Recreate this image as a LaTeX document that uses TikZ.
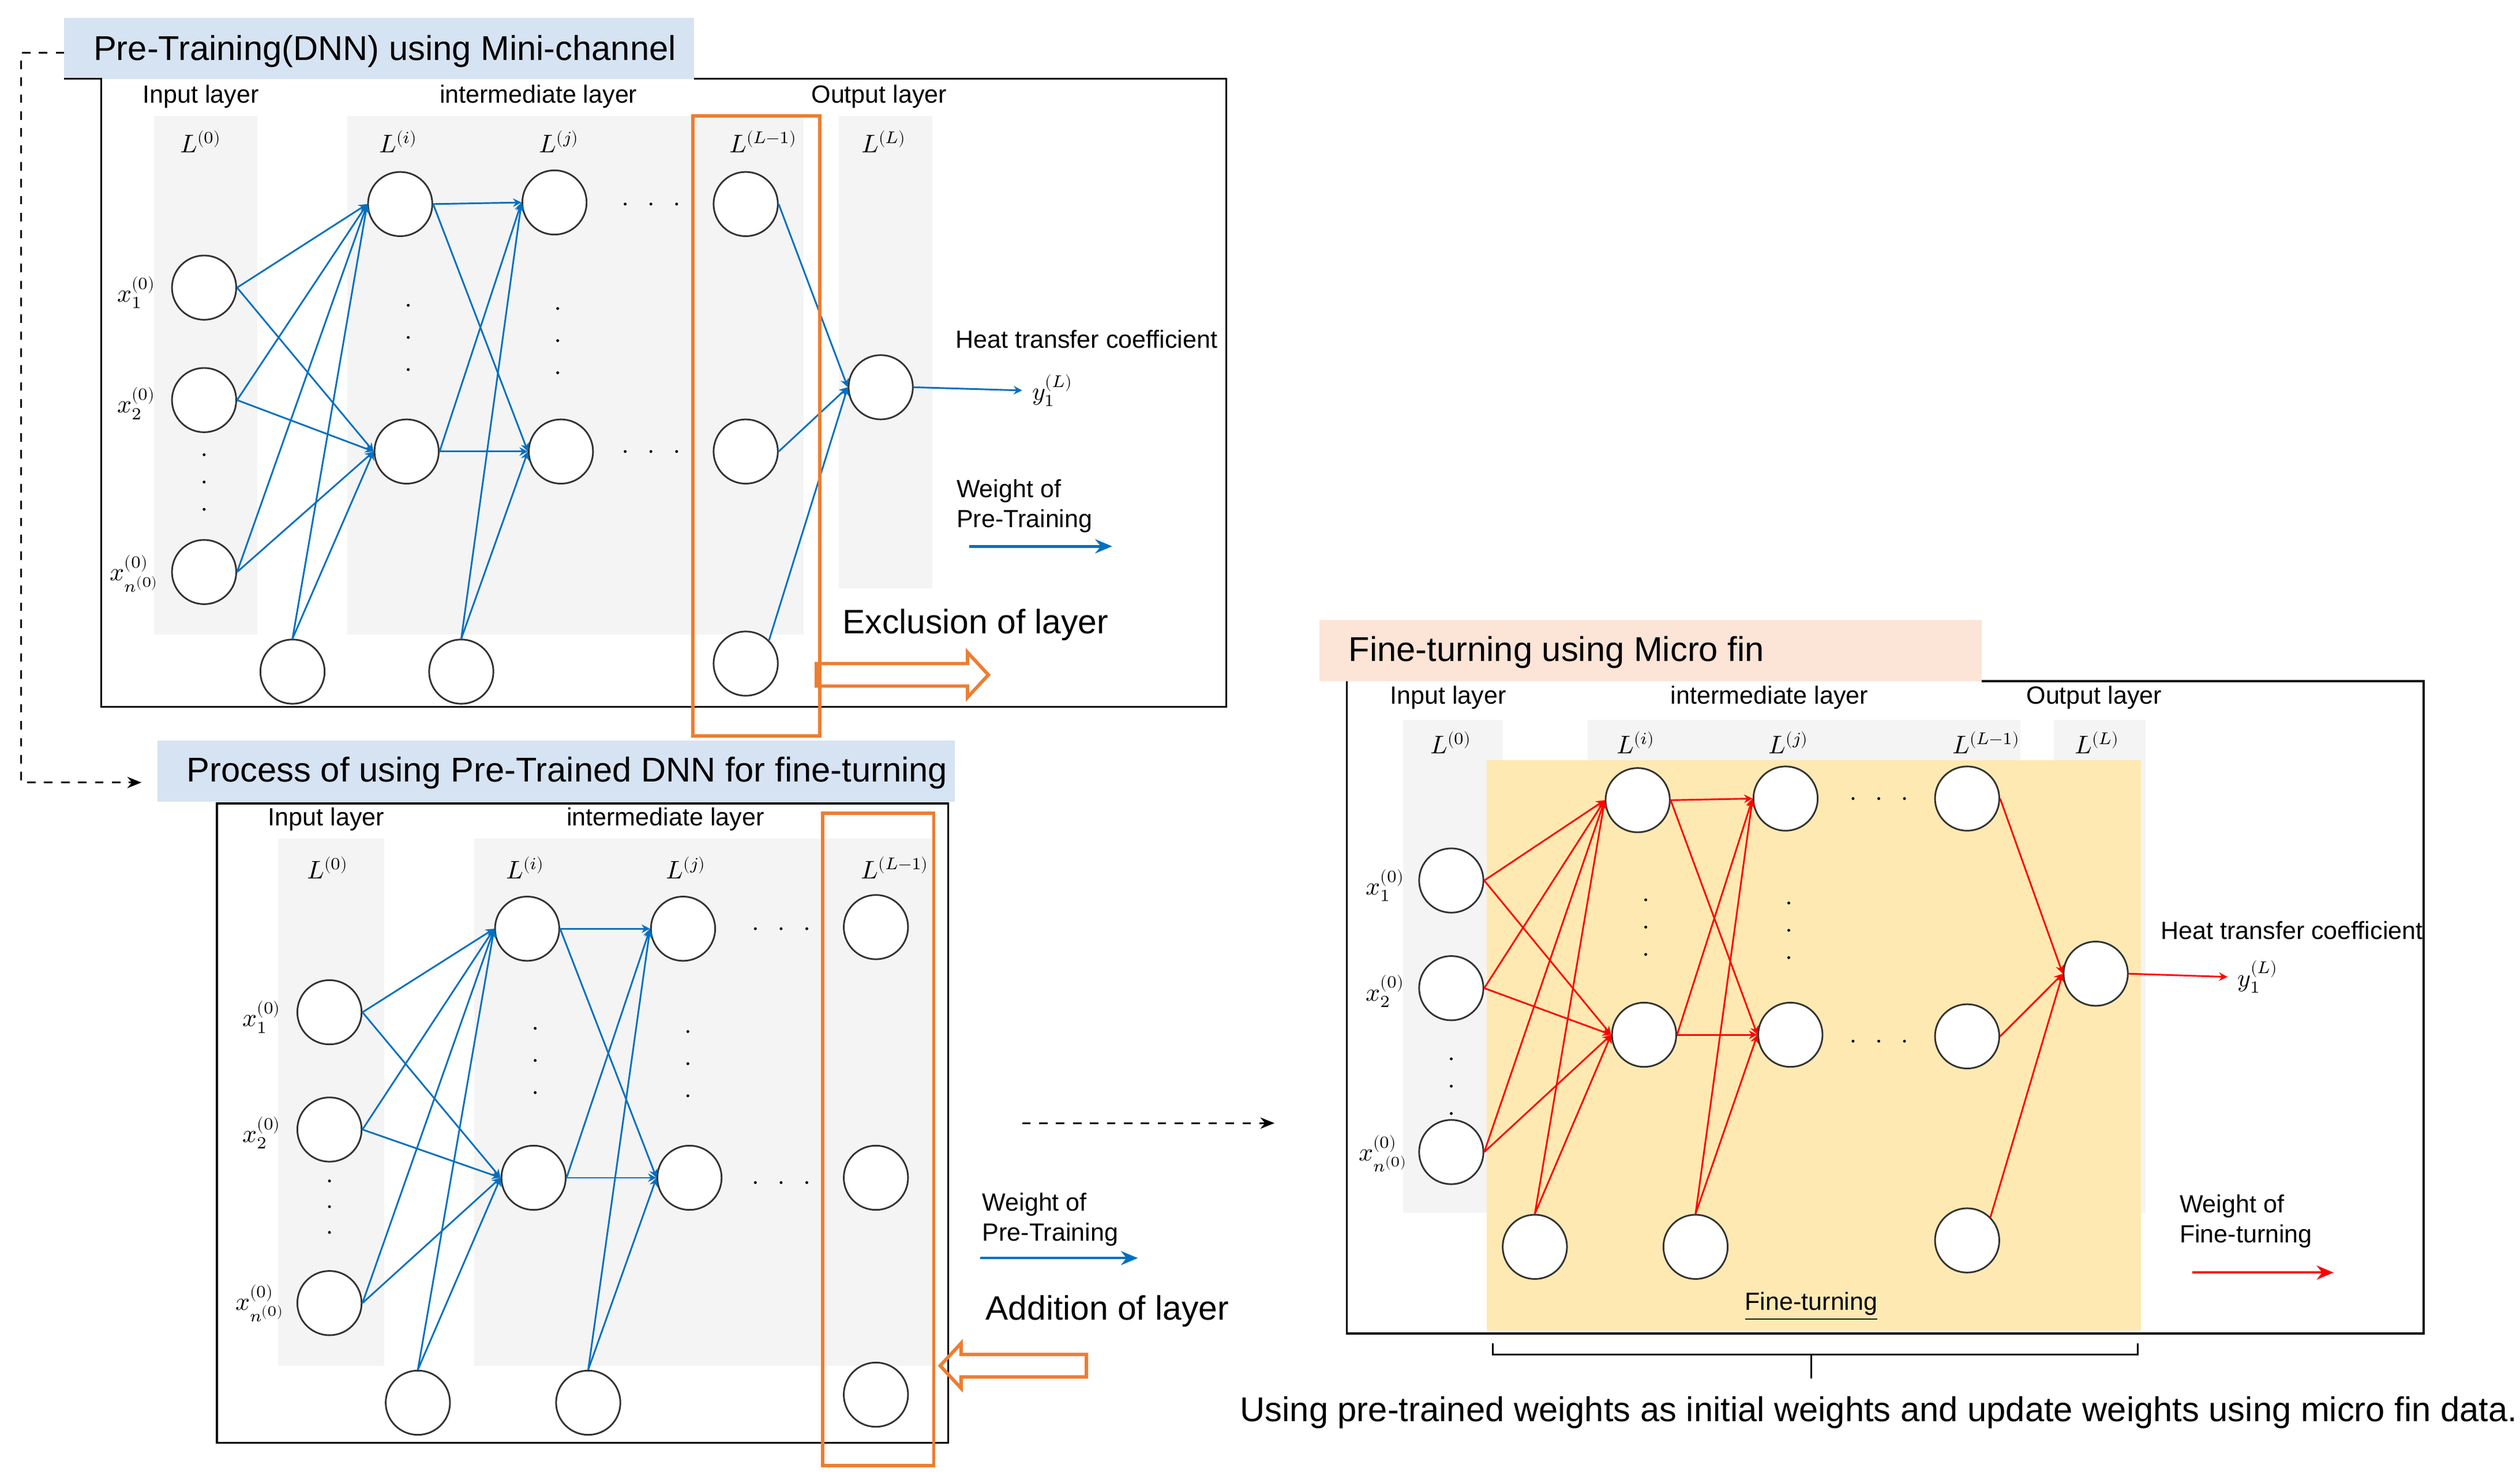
\documentclass[tikz,border=0pt]{standalone}
\usepackage{fontspec}
\setmainfont{Liberation Sans}
\usepackage{unicode-math}
\setmathfont{Latin Modern Math}
\usetikzlibrary{arrows.meta}
\definecolor{nblue}{RGB}{0,112,192}
\definecolor{nred}{RGB}{255,0,0}
\definecolor{norange}{RGB}{237,125,49}
\definecolor{band}{RGB}{244,244,244}
\definecolor{tblue}{RGB}{214,227,242}
\definecolor{tpeach}{RGB}{252,228,214}
\definecolor{yel}{RGB}{255,233,178}
\tikzset{
 nd/.style={draw=black!80,fill=white,circle,minimum size=0.8cm,inner sep=0,line width=0.6pt},
 hdr/.style={font=\fontsize{8.8}{10.5}\selectfont},
 ttl/.style={font=\fontsize{12.2}{14}\selectfont},
 big/.style={font=\fontsize{12}{14}\selectfont},
 ml/.style={font=\fontsize{9}{10}\selectfont},
 eb/.style={nblue,line width=0.6pt,-{Stealth[length=3pt,width=3pt]}},
 er/.style={nred,line width=0.6pt,-{Stealth[length=3pt,width=3pt]}},
}
\newcommand{\vdt}[3]{\foreach \k in {0,1,2}{\fill (#1,#2+\k*#3) circle (0.9);}}
\newcommand{\hdt}[2]{\foreach \k in {0,1,2}{\fill (#1+\k*16,#2) circle (0.9);}}
\begin{document}
\begin{tikzpicture}[x=0.02cm,y=-0.02cm]
\useasboundingbox (0,0) rectangle (1568,921);
%================ PANEL 1
\fill[tblue] (40,11) rectangle (432,49);
\node[ttl,anchor=west] (t1) at (52,32) {Pre-Training(DNN) using Mini-channel};
\draw[line width=0.7pt] (432,49) -- (763,49) -- (763,440) -- (63,440) -- (63,49) -- (40,49);
\fill[band] (96,72) rectangle (160,395);
\fill[band] (216,72) rectangle (500,395);
\fill[band] (522,72) rectangle (580,366);
\node[hdr] (h1a) at (125,60) {Input layer};
\node[hdr] (h1b) at (335,60) {intermediate layer};
\node[hdr] (h1c) at (547,60) {Output layer};
\node[ml] (l1a) at (125,88) {$L^{(0)}$};
\node[ml] (l1b) at (248,88) {$L^{(i)}$};
\node[ml] (l1c) at (348,88) {$L^{(j)}$};
\node[ml] (l1d) at (475,88) {$L^{(L-1)}$};
\node[ml] (l1e) at (550,88) {$L^{(L)}$};
\node[nd] (a1) at (127,179) {};
\node[nd] (a2) at (127,249) {};
\node[nd] (an) at (127,356) {};
\node[nd] (ab1) at (182,418) {};
\node[nd] (ab2) at (287,418) {};
\node[nd] (ai1) at (249,127) {};
\node[nd] (ai2) at (253,281) {};
\node[nd] (aj1) at (345,126) {};
\node[nd] (aj2) at (349,281) {};
\node[nd] (ak1) at (464,127) {};
\node[nd] (ak2) at (464,281) {};
\node[nd] (ak3) at (464,413) {};
\node[nd] (ao) at (548,241) {};
\node[ml] (ax1) at (85,182) {$x_1^{(0)}$};
\node[ml] (ax2) at (85,251) {$x_2^{(0)}$};
\node[ml] (axn) at (84,357) {$x_{n^{(0)}}^{(0)}$};
\vdt{127}{283}{17} \vdt{254}{190}{20} \vdt{347}{192}{20}
\hdt{389}{127} \hdt{389}{281}
\foreach \s in {a1,a2,an}{\draw[eb] (\s.east) -- (ai1.west); \draw[eb] (\s.east) -- (ai2.west);}
\draw[eb] (ab1.north) -- (ai1.west); \draw[eb] (ab1.north) -- (ai2.west);
\foreach \s in {ai1,ai2}{\draw[eb] (\s.east) -- (aj1.west); \draw[eb] (\s.east) -- (aj2.west);}
\draw[eb] (ab2.north) -- (aj1.west); \draw[eb] (ab2.north) -- (aj2.west);
\foreach \s in {ak1,ak2}{\draw[eb] (\s.east) -- (ao.west);}
\draw[eb] (ak3.north east) -- (ao.west);
\draw[norange,line width=1.2pt] (431,72) rectangle (510,458);
\node[ml] (ay) at (655,243) {$y_1^{(L)}$};
\draw[eb] (ao.east) -- (ay.west);
\node[hdr] (heat1) at (676,211) {Heat transfer coefficient};
\node[hdr,anchor=west,align=left] (w1) at (589,315) {Weight of\\Pre-Training};
\coordinate (w1s) at (603,340); \coordinate (w1e) at (692,340);
\draw[nblue,line width=1pt,-{Stealth[length=6pt,width=5pt]}] (w1s) -- (w1e);
\node[big] (ex) at (607,389) {Exclusion of layer};
\draw[norange,line width=1.2pt] (508,413) -- (602,413) -- (602,406) -- (615,420) -- (602,434) -- (602,427) -- (508,427) -- cycle;
\coordinate (d0) at (40,33); \coordinate (d1) at (88,487);
\draw[dashed,line width=0.6pt,-{Stealth[length=5pt,width=4pt]}] (d0) -- (13,33) -- (13,487) -- (d1);
%================ PANEL 2
\fill[tblue] (98,461) rectangle (594,499);
\node[ttl,anchor=west] (t2) at (110,481) {Process of using Pre-Trained DNN for fine-turning};
\draw[line width=0.7pt] (135,500) rectangle (590,898);
\fill[band] (173,522) rectangle (239,850);
\fill[band] (295,522) rectangle (580,850);
\node[hdr] (h2a) at (203,510) {Input layer};
\node[hdr] (h2b) at (414,510) {intermediate layer};
\node[ml] (l2a) at (204,540) {$L^{(0)}$};
\node[ml] (l2b) at (327,540) {$L^{(i)}$};
\node[ml] (l2c) at (427,540) {$L^{(j)}$};
\node[ml] (l2d) at (557,540) {$L^{(L-1)}$};
\node[nd] (b1) at (205,630) {};
\node[nd] (b2) at (205,703) {};
\node[nd] (bn) at (205,811) {};
\node[nd] (bb1) at (260,873) {};
\node[nd] (bb2) at (366,873) {};
\node[nd] (bi1) at (328,578) {};
\node[nd] (bi2) at (332,733) {};
\node[nd] (bj1) at (425,578) {};
\node[nd] (bj2) at (429,733) {};
\node[nd] (bk1) at (545,577) {};
\node[nd] (bk2) at (545,733) {};
\node[nd] (bk3) at (545,868) {};
\node[ml] (bx1) at (163,633) {$x_1^{(0)}$};
\node[ml] (bx2) at (163,705) {$x_2^{(0)}$};
\node[ml] (bxn) at (162,811) {$x_{n^{(0)}}^{(0)}$};
\vdt{205}{735}{16} \vdt{333}{640}{20} \vdt{428}{642}{20}
\hdt{470}{578} \hdt{470}{736}
\foreach \s in {b1,b2,bn}{\draw[eb] (\s.east) -- (bi1.west); \draw[eb] (\s.east) -- (bi2.west);}
\draw[eb] (bb1.north) -- (bi1.west); \draw[eb] (bb1.north) -- (bi2.west);
\foreach \s in {bi1,bi2}{\draw[eb] (\s.east) -- (bj1.west); \draw[eb] (\s.east) -- (bj2.west);}
\draw[eb] (bb2.north) -- (bj1.west); \draw[eb] (bb2.north) -- (bj2.west);
\draw[norange,line width=1.2pt] (512,506) rectangle (581,912);
\node[hdr,anchor=west,align=left] (w2) at (605,759) {Weight of\\Pre-Training};
\coordinate (w2s) at (610,783); \coordinate (w2e) at (708,783);
\draw[nblue,line width=0.8pt,-{Stealth[length=6pt,width=5pt]}] (w2s) -- (w2e);
\node[big] (ad) at (689,816) {Addition of layer};
\draw[norange,line width=1.2pt] (676,843) -- (598,843) -- (598,836) -- (585,850) -- (598,864) -- (598,857) -- (676,857) -- cycle;
\coordinate (e0) at (636,699); \coordinate (e1) at (793,699);
\draw[dashed,line width=0.6pt,-{Stealth[length=5pt,width=4pt]}] (e0) -- (e1);
%================ PANEL 3
\fill[tpeach] (821,386) rectangle (1233,424);
\node[ttl,anchor=west] (t3) at (833,406) {Fine-turning using Micro fin};
\draw[line width=0.7pt] (1233,424) -- (1508,424) -- (1508,830) -- (838,830) -- (838,424);
\fill[band] (873,448) rectangle (935,755);
\fill[band] (988,448) rectangle (1257,755);
\fill[band] (1278,448) rectangle (1335,755);
\fill[yel] (925,473) rectangle (1332,828);
\node[hdr] (h3a) at (901,434) {Input layer};
\node[hdr] (h3b) at (1101,434) {intermediate layer};
\node[hdr] (h3c) at (1303,434) {Output layer};
\node[ml] (l3a) at (903,462) {$L^{(0)}$};
\node[ml] (l3b) at (1018,462) {$L^{(i)}$};
\node[ml] (l3c) at (1113,462) {$L^{(j)}$};
\node[ml] (l3d) at (1236,462) {$L^{(L-1)}$};
\node[ml] (l3e) at (1305,462) {$L^{(L)}$};
\node[nd] (c1) at (903,548) {};
\node[nd] (c2) at (903,615) {};
\node[nd] (cn) at (903,717) {};
\node[nd] (cb1) at (955,776) {};
\node[nd] (cb2) at (1055,776) {};
\node[nd] (ci1) at (1019,498) {};
\node[nd] (ci2) at (1023,644) {};
\node[nd] (cj1) at (1111,497) {};
\node[nd] (cj2) at (1114,644) {};
\node[nd] (ck1) at (1224,497) {};
\node[nd] (ck2) at (1224,645) {};
\node[nd] (ck3) at (1224,772) {};
\node[nd] (co) at (1304,606) {};
\node[ml] (cx1) at (862,551) {$x_1^{(0)}$};
\node[ml] (cx2) at (862,617) {$x_2^{(0)}$};
\node[ml] (cxn) at (861,718) {$x_{n^{(0)}}^{(0)}$};
\vdt{903}{659}{17} \vdt{1024}{560}{17} \vdt{1113}{562}{17}
\hdt{1153}{497} \hdt{1153}{648}
\foreach \s in {c1,c2,cn}{\draw[er] (\s.east) -- (ci1.west); \draw[er] (\s.east) -- (ci2.west);}
\draw[er] (cb1.north) -- (ci1.west); \draw[er] (cb1.north) -- (ci2.west);
\foreach \s in {ci1,ci2}{\draw[er] (\s.east) -- (cj1.west); \draw[er] (\s.east) -- (cj2.west);}
\draw[er] (cb2.north) -- (cj1.west); \draw[er] (cb2.north) -- (cj2.west);
\foreach \s in {ck1,ck2}{\draw[er] (\s.east) -- (co.west);}
\draw[er] (ck3.north east) -- (co.west);
\node[ml] (cy) at (1405,608) {$y_1^{(L)}$};
\draw[er] (co.east) -- (cy.west);
\node[hdr] (heat3) at (1426,579) {Heat transfer coefficient};
\node[hdr,anchor=west,align=left] (w3) at (1350,760) {Weight of\\Fine-turning};
\coordinate (w3s) at (1364,792); \coordinate (w3e) at (1452,792);
\draw[nred,line width=0.8pt,-{Stealth[length=6pt,width=5pt]}] (w3s) -- (w3e);
\node[hdr] (ft) at (1127,813) {\underline{Fine-turning}};
\draw[line width=0.6pt] (929,836) -- (929,843) -- (1330,843) -- (1330,836);
\draw[line width=0.6pt] (1127,843) -- (1127,858);
\node[ttl] (cap) at (1169,879) {Using pre-trained weights as initial weights and update weights using micro fin data.};
\end{tikzpicture}
\end{document}
